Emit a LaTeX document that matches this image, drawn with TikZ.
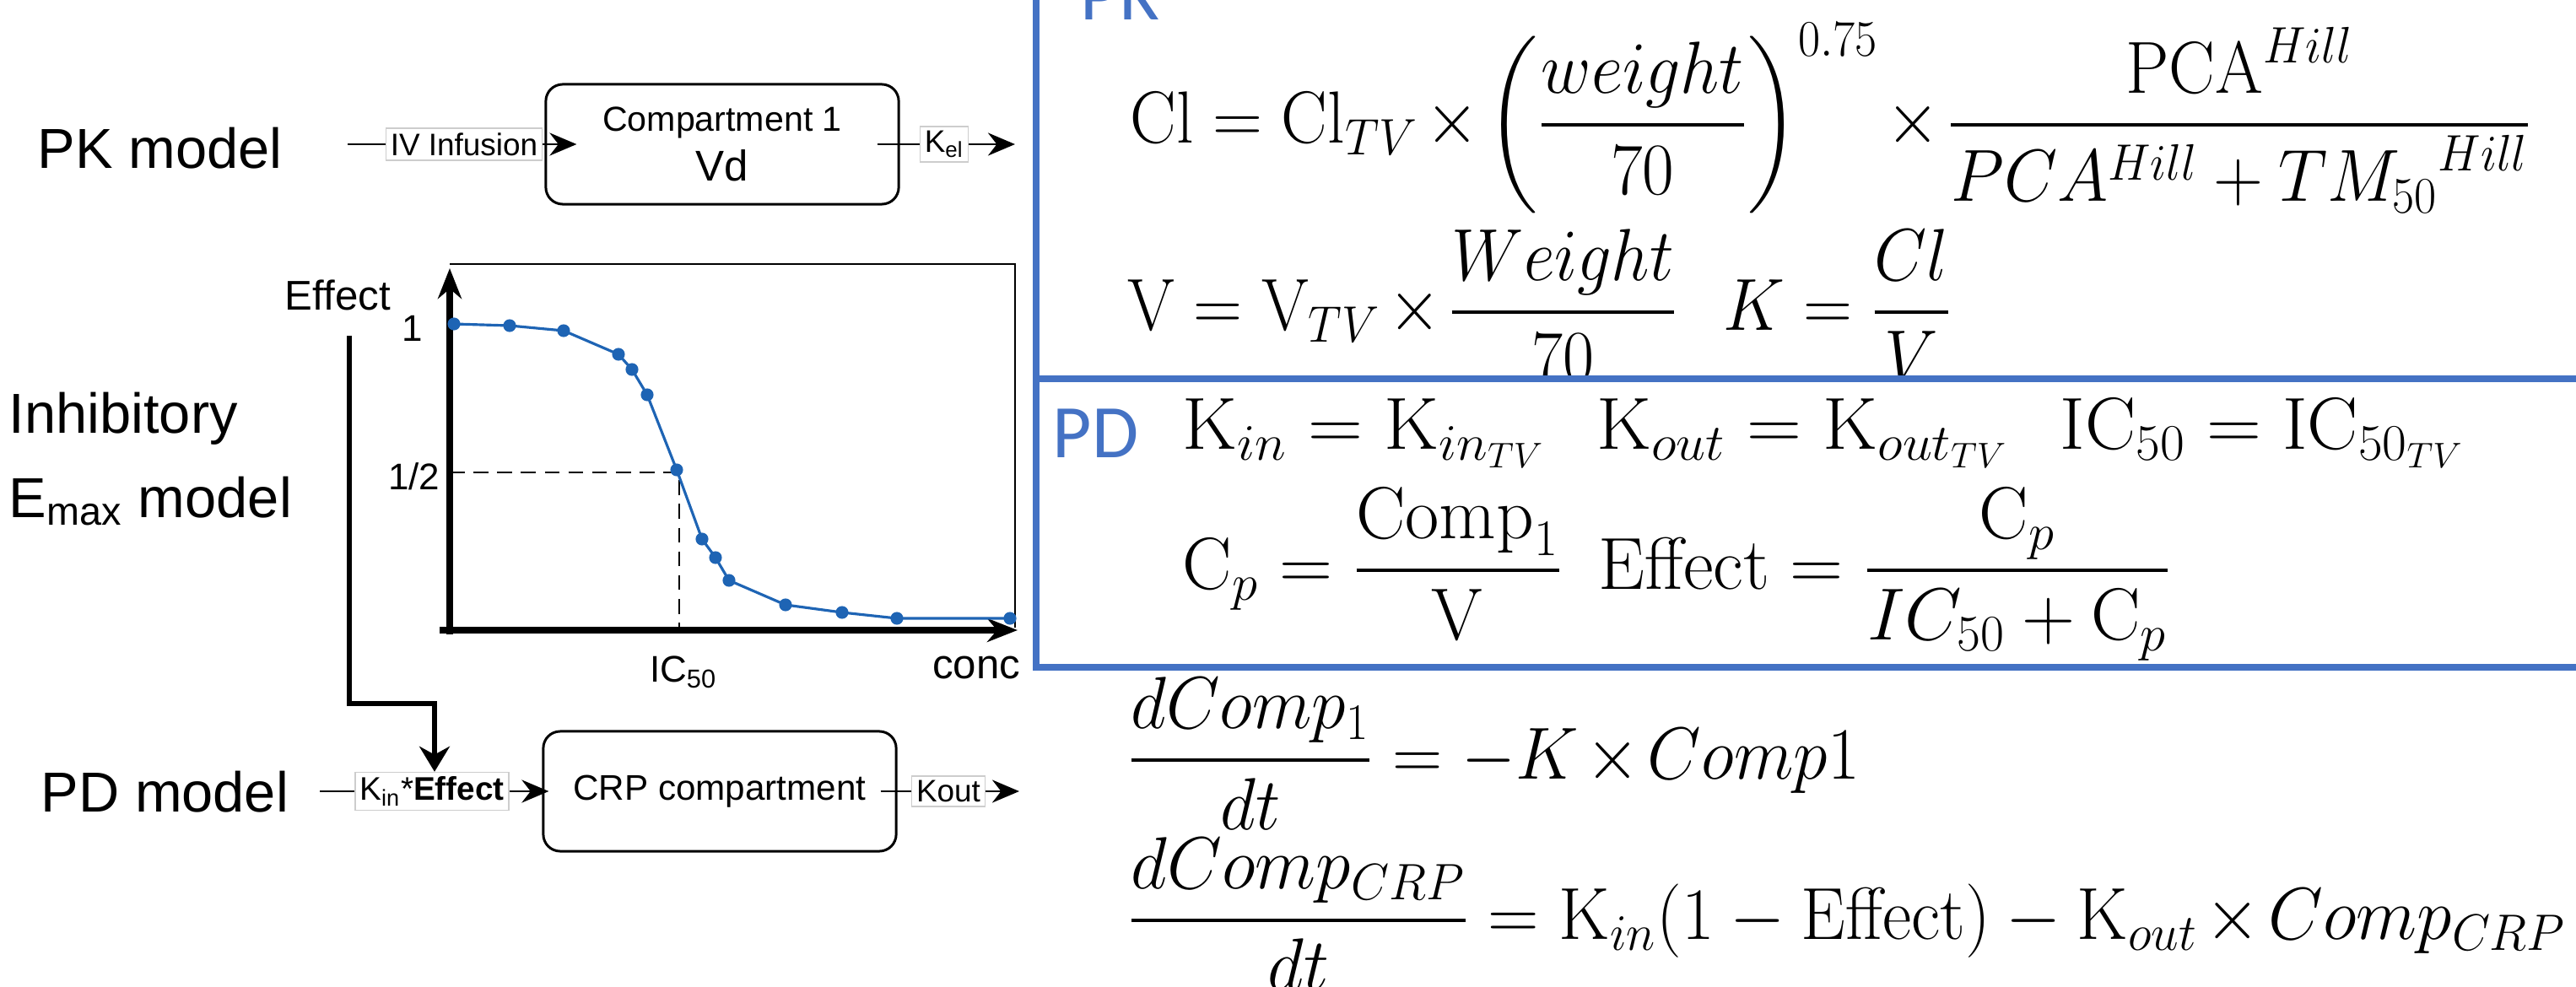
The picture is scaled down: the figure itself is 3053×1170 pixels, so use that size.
\documentclass[tikz,border=0pt]{standalone}
\usepackage{amsmath}
\usepackage{graphicx}
\usepackage[no-math]{fontspec}
\setmainfont{Liberation Sans}
\newfontfamily\calib{Carlito}
\usetikzlibrary{arrows.meta}

\definecolor{boxblue}{RGB}{68,114,196}
\definecolor{curveblue}{RGB}{30,100,180}
\definecolor{lblgray}{RGB}{205,205,205}

\newcommand{\tms}{\mathbin{\mkern-2mu\times\mkern-2mu}}
\newcommand{\eqgap}{\hspace{0.7em}}

\tikzset{
  bigtxt/.style={anchor=base west, inner sep=0pt, font=\fontsize{19}{23}\selectfont},
  comp/.style={draw, line width=0.85pt, rounded corners=0.2cm, minimum width=4.18cm,
    minimum height=1.42cm, align=center, inner sep=0pt},
  lbl/.style={draw=lblgray, line width=0.4pt, fill=white, inner sep=1.5pt,
    font=\fontsize{10.5}{12}\selectfont},
  conn/.style={line width=0.85pt},
  arr/.style={conn, -{Stealth[length=0.32cm, width=0.27cm]}},
  fbarr/.style={line width=1.7pt, -{Stealth[length=0.3cm, width=0.36cm]}},
  axis/.style={line width=2pt, -{Stealth[length=0.36cm, width=0.28cm]}},
  curve/.style={curveblue, line width=0.9pt, mark=*, mark size=1.7pt,
    mark options={fill=curveblue}},
  guide/.style={line width=0.6pt, dash pattern=on 5pt off 3pt},
  tick/.style={inner sep=0pt, font=\fontsize{12.5}{14}\selectfont},
  eqn/.style={anchor=base west, inner sep=0pt, font=\fontsize{24}{29}\selectfont},
  panel/.style={draw=boxblue, line width=2pt},
  tag/.style={anchor=base west, inner sep=0pt, text=boxblue,
    font=\calib\fontsize{25.5}{30}\selectfont},
}

\begin{document}
\begin{tikzpicture}[x=0.01cm, y=-0.01cm]
    \useasboundingbox (0,0) rectangle (3053,1170);

    % model names
    \node[bigtxt] (pkmodel) at (44,200) {PK model};
    \node[bigtxt] (inhib1) at (10,513) {Inhibitory};
    \node[bigtxt] (inhib2) at (10,613) {E\textsubscript{max} model};
    \node[bigtxt] (pdmodel) at (48,962) {PD model};

    % PK model
    \coordinate (ivstart) at (412,171);
    \node[lbl] (ivlab) at (550,171) {IV Infusion};
    \node[comp] (cmp1) at (856,171) {{\fontsize{11.7}{14}\selectfont Compartment 1}\\[3pt]
        {\fontsize{14.5}{17}\selectfont Vd}};
    \node[lbl] (kel) at (1119,171) {K\textsubscript{el}};
    \coordinate (kelend) at (1203,171);
    \draw[conn] (ivstart) -- (ivlab.west);
    \draw[arr] (ivlab.east) -- ([xshift=0.38cm]cmp1.west);
    \draw[conn] ([xshift=-0.27cm]cmp1.east) -- (kel.west);
    \draw[arr] (kel.east) -- (kelend);

    % PD model
    \coordinate (pdstart) at (379,938);
    \node[lbl, font=\fontsize{11}{13}\selectfont] (kinlab) at (512,938) {K\textsubscript{in}*\textbf{Effect}};
    \node[comp] (crp) at (853,938) {\fontsize{12}{14}\selectfont CRP compartment};
    \node[lbl] (kout) at (1124,938) {Kout};
    \coordinate (koutend) at (1208,938);
    \draw[conn] (pdstart) -- (kinlab.west);
    \draw[arr] (kinlab.east) -- ([xshift=0.08cm]crp.west);
    \draw[conn] ([xshift=-0.2cm]crp.east) -- (kout.west);
    \draw[arr] (kout.east) -- (koutend);

    % Emax curve
    \draw[line width=0.5pt] (533,313) -- (1203,313) -- (1203,744);
    \draw[axis] (533,752) -- (533,318);
    \draw[axis] (521,747) -- (1206,747);
    \draw[guide] (533,560) -- (805,560) -- (805,747);
    \draw[curve] plot coordinates {(538,384) (604,386) (668,392) (733,420) (749,438)
        (767,468) (802,557) (832,639) (848,661) (864,688) (931,717) (998,726)
        (1063,733) (1197,733)};
    \node[anchor=base west, inner sep=0pt, font=\fontsize{14}{16}\selectfont] (efflab) at (337,367) {Effect};
    \node[tick, anchor=east] (one) at (502,389) {1};
    \node[tick, anchor=east] (half) at (522,565) {1/2};
    \node[tick, anchor=north] (ic50) at (810,777) {IC\textsubscript{50}};
    \node[anchor=north, inner sep=0pt, font=\fontsize{14}{16}\selectfont] (conc) at (1157,777) {conc};

    % feedback of the effect
    \coordinate (fbstart) at (414,398);
    \coordinate (fbturn) at (515,834);
    \draw[fbarr] (fbstart) |- (fbturn) -- (fbturn |- kinlab.north);

    % PK equations
    \draw[panel] (1228,-80) rectangle (3150,449);
    \node[tag] (pktag) at (1280,24) {PK};
    \node[eqn] (cleq) at (1339,170) {\scalebox{0.935}[1]{$\mathrm{Cl}=\mathrm{Cl}_{TV}\tms
        \left(\dfrac{weight}{70}\right)^{0.75}\tms
        \dfrac{\mathrm{PCA}^{Hill}}{PCA^{Hill}+{TM_{50}}^{Hill}}$}};
    \node[eqn] (veq) at (1336,392) {\scalebox{0.92}[1]{$\mathrm{V}=\mathrm{V}_{TV}\tms
        \dfrac{Weight}{70}\eqgap K=\dfrac{Cl}{V}$}};

    % PD equations
    \draw[panel, fill=white] (1228,449) rectangle (3150,791);
    \node[tag] (pdtag) at (1247,542) {PD};
    \node[eqn] (kineq) at (1401,532) {\scalebox{1.03}[1]{$\mathrm{K}_{in}=\mathrm{K}_{in_{TV}}\eqgap
        \mathrm{K}_{out}=\mathrm{K}_{out_{TV}}\eqgap
        \mathrm{IC}_{50}=\mathrm{IC}_{50_{TV}}$}};
    \node[eqn] (cpeq) at (1401,698) {$\mathrm{C}_p=\dfrac{\mathrm{Comp}_1}{\mathrm{V}}\enspace
        \mathrm{Effect}=\dfrac{\mathrm{C}_p}{IC_{50}+\mathrm{C}_p}$};

    % ODEs
    \node[eqn] (ode1) at (1336,923) {\scalebox{0.94}[1]{$\dfrac{dComp_1}{dt}=-K\tms Comp1$}};
    \node[eqn] (ode2) at (1336,1113) {\scalebox{0.96}[1]{$\dfrac{dComp_{CRP}}{dt}
        =\mathrm{K}_{in}(1-\mathrm{Effect})-\mathrm{K}_{out}\tms Comp_{CRP}$}};
\end{tikzpicture}
\end{document}
